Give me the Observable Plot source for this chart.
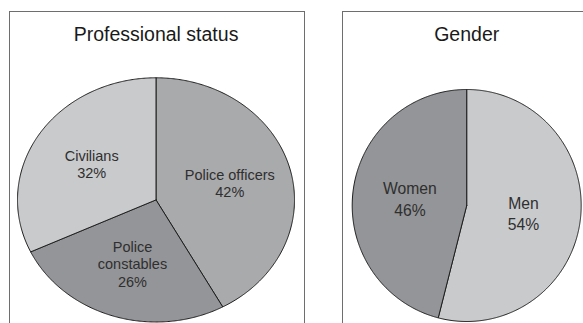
<!DOCTYPE html>
<html><head><meta charset="utf-8">
<script src="https://cdn.jsdelivr.net/npm/d3@7"></script>
<script src="https://cdn.jsdelivr.net/npm/@observablehq/plot@0.6"></script>
<style>
html,body{margin:0;padding:0;background:#fff;overflow:hidden;width:583px;height:323px;}
#wrap{position:relative;width:583px;height:323px;overflow:hidden;}
#left,#right{position:absolute;top:0;}
#left{left:0}
#right{left:320px}
</style></head><body><div id="wrap"><div id="left"></div><div id="right"></div></div>
<script>
// ---- data ----
const statusTitle = "Professional status";
const statusCategories = ["Police officers", "Police constables", "Civilians"];
const statusLabels = ["Police officers", "Police\nconstables", "Civilians"];
const statusValues = [42, 26, 32];

const genderTitle = "Gender";
const genderCategories = ["Men", "Women"];
const genderLabels = ["Men", "Women"];
const genderValues = [54, 46];

// ---- styles ----
const statusColors = ["#a9aaac", "#949598", "#c9cacc"];
const genderColors = ["#c9cacc", "#949598"];

function slices(cats, labels, vals) {
  const total = d3.sum(vals);
  let acc = 0;
  const pts = [], labs = [];
  cats.forEach((c, i) => {
    const a0 = acc / total * 2 * Math.PI;
    acc += vals[i];
    const a1 = acc / total * 2 * Math.PI;
    pts.push({cat: c, x: 0, y: 0});
    const n = Math.max(2, Math.ceil((a1 - a0) / (Math.PI / 360)));
    for (let k = 0; k <= n; k++) {
      const a = a0 + (a1 - a0) * k / n;
      pts.push({cat: c, x: Math.sin(a), y: Math.cos(a)});
    }
    pts.push({cat: c, x: 0, y: 0});
    const am = (a0 + a1) / 2;
    labs.push({cat: c, text: labels[i] + "\n" + vals[i] + "%", mx: Math.sin(am), my: Math.cos(am)});
  });
  return {pts, labs};
}

function pie({title, cats, labels, vals, colors, width, height, margins, xRange, yRange, labelR, labelSize, lineHeight}) {
  const {pts, labs} = slices(cats, labels, vals);
  return Plot.plot({
    width, height, ...margins,
    style: {fontFamily: "'Liberation Sans', Arial, sans-serif", background: "transparent", overflow: "visible"},
    x: {domain: [-1, 1], range: xRange, axis: null},
    y: {domain: [-1, 1], range: yRange, axis: null},
    color: {domain: cats, range: colors},
    marks: [
      Plot.frame({stroke: "#6e6e6e", strokeWidth: 1}),
      Plot.line(pts, {x: "x", y: "y", z: "cat", fill: "cat", stroke: "#1e1e1e", strokeWidth: 1, curve: "linear"}),
      Plot.text(labs, {x: d => d.mx * labelR, y: d => d.my * labelR, text: "text", fontSize: labelSize, lineHeight, fill: "#2f2f2f"}),
      Plot.text([title], {x: 0, frameAnchor: "top", lineAnchor: "middle", dy: 23, text: d => d, fontSize: 19.5, fill: "#1a1a1a"})
    ]
  });
}

document.getElementById("left").appendChild(pie({
  title: statusTitle, cats: statusCategories, labels: statusLabels, vals: statusValues, colors: statusColors,
  width: 320, height: 323,
  margins: {marginLeft: 9, marginRight: 16, marginTop: 11, marginBottom: -4},
  xRange: [17, 294], yRange: [321.5, 77.3],
  labelR: 0.55, labelSize: 14.5, lineHeight: 1.2
}));

document.getElementById("right").appendChild(pie({
  title: genderTitle, cats: genderCategories, labels: genderLabels, vals: genderValues, colors: genderColors,
  width: 263, height: 323,
  margins: {marginLeft: 22, marginRight: -5, marginTop: 11, marginBottom: -4},
  xRange: [31.7, 260.7], yRange: [321, 89],
  labelR: 0.5, labelSize: 15.7, lineHeight: 1.35
}));
</script>
</body></html>
